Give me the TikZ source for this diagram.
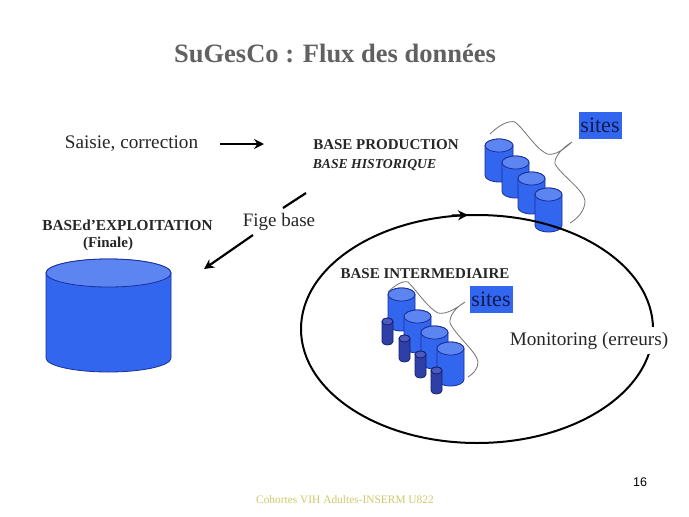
\documentclass[tikz,border=0pt]{standalone}
\usepackage{fontspec}
\setmainfont{Liberation Serif}
\newfontfamily\arialf{Liberation Sans}
\usetikzlibrary{arrows.meta}
\definecolor{cylblue}{HTML}{3366EE}
\definecolor{cyltop}{HTML}{5C85F2}
\definecolor{cylline}{HTML}{1A2F9A}
\definecolor{smallblue}{HTML}{2F3FA8}
\definecolor{smalltop}{HTML}{4A5AC0}
\definecolor{smallline}{HTML}{14206E}
\definecolor{sitefill}{HTML}{3366EE}
\definecolor{sitetext}{HTML}{101A50}
\tikzset{
  lab/.style={inner sep=0pt,text=black!85,font=\fontsize{#1}{#1}\selectfont},
  blab/.style={inner sep=0pt,text=black!85,font=\fontsize{#1}{#1}\selectfont\bfseries},
  sitebox/.style={fill=sitefill,inner sep=0pt,minimum width=43pt,minimum height=27pt,text=sitetext,font=\fontsize{22}{22}\selectfont},
  flowarrow/.style={draw=black,line width=2.2pt,-{Stealth[length=10pt,width=10pt]}},
  callout/.style={draw=black!55,line width=0.8pt},
}
% \cyl{left}{right}{top of lid}{bottom}{ry}{body}{lid}{line}{line width}
\newcommand{\cyl}[9]{%
  \path[fill=#6,draw=#8,line width=#9]
    (#1,{#3+#5}) -- (#1,{#4-#5})
    arc[start angle=180,end angle=0,x radius={(#2-#1)/2},y radius=#5]
    -- (#2,{#3+#5})
    arc[start angle=0,end angle=-180,x radius={(#2-#1)/2},y radius=#5] -- cycle;
  \path[fill=#7,draw=#8,line width=#9]
    ({(#1+#2)/2},{#3+#5}) ellipse[x radius={(#2-#1)/2},y radius=#5];
}
\begin{document}
\begin{tikzpicture}[x=1pt,y=-1pt]
\useasboundingbox[fill=white] (0,0) rectangle (689,517);
% title
\node[inner sep=0pt,text=black!62,font=\fontsize{26.5}{26.5}\selectfont\bfseries] (title) at (335,53) {SuGesCo : Flux des données};
% labels
\node[lab=19.2] (saisie) at (131.5,144) {Saisie, correction};
\node[blab=15] (prod) at (386,145) {BASE PRODUCTION};
\node[inner sep=0pt,text=black!85,font=\fontsize{13.7}{13.7}\selectfont\bfseries\itshape] (hist) at (374.5,165) {BASE HISTORIQUE};
\node[blab=15.3] (expl) at (127.5,225) {BASEd’EXPLOITATION};
\node[blab=15] (finale) at (108,244) {(Finale)};
\node[lab=19] (fige) at (279,221.5) {Fige base};
\node[blab=15] (inter) at (425,274) {BASE INTERMEDIAIRE};
% arrows
\coordinate (a1s) at (220,144);
\coordinate (a1e) at (264,144);
\draw[flowarrow] (a1s) -- (a1e);
\coordinate (a2s) at (306,193);
\coordinate (a2e) at (283,208);
\draw[draw=black,line width=2.2pt] (a2s) -- (a2e);
\coordinate (a3s) at (253,235);
\coordinate (a3e) at (204,269);
\draw[flowarrow] (a3s) -- (a3e);
% big cylinder
\cyl{46}{171}{259}{372}{14}{cylblue}{cyltop}{cylline}{0.8pt}
% top sites
\cyl{485}{513}{139}{182}{6.5}{cylblue}{cyltop}{cylline}{0.8pt}
\cyl{502}{529}{156}{198}{6.5}{cylblue}{cyltop}{cylline}{0.8pt}
\cyl{518}{545}{172}{214}{6.5}{cylblue}{cyltop}{cylline}{0.8pt}
\cyl{535}{562}{188}{232}{6.5}{cylblue}{cyltop}{cylline}{0.8pt}
% intermediate sites
\cyl{388}{415}{288}{331}{6.5}{cylblue}{cyltop}{cylline}{0.8pt}
\cyl{382}{393}{318}{345}{3.5}{smallblue}{smalltop}{smallline}{0.8pt}
\cyl{404}{431}{310}{353}{6.5}{cylblue}{cyltop}{cylline}{0.8pt}
\cyl{399}{410}{335}{362}{3.5}{smallblue}{smalltop}{smallline}{0.8pt}
\cyl{421}{448}{326}{369}{6.5}{cylblue}{cyltop}{cylline}{0.8pt}
\cyl{415}{426}{351}{378}{3.5}{smallblue}{smalltop}{smallline}{0.8pt}
\cyl{437}{464}{342}{386}{6.5}{cylblue}{cyltop}{cylline}{0.8pt}
\cyl{431}{442}{367}{394}{3.5}{smallblue}{smalltop}{smallline}{0.8pt}
% callouts
\draw[callout] (490,134) .. controls (498,126) and (508,120) .. (515,122)
  .. controls (525,130) and (535,148) .. (547,154)
  .. controls (556,156) and (565,148) .. (572,142)
  .. controls (562,148) and (554,157) .. (555,164)
  .. controls (562,176) and (584,190) .. (585,201)
  .. controls (585,211) and (577,219) .. (570,223);
\draw[callout] (388,292) .. controls (393,287) and (402,280) .. (408,282)
  .. controls (417,291) and (428,308) .. (438,313)
  .. controls (447,315) and (458,307) .. (465,302)
  .. controls (456,307) and (449,316) .. (450,323)
  .. controls (456,336) and (477,352) .. (478,362)
  .. controls (478,369) and (473,374) .. (468,377);
% big ellipse
\draw[black,line width=2pt] (477,329) ellipse[x radius=176,y radius=114];
\coordinate (el1) at (452,215.5);
\coordinate (el2) at (468,215);
\draw[draw=black,line width=2pt,-{Stealth[length=10pt,width=10pt]}] (el1) -- (el2);
% text over ellipse
\node[lab=19.2,fill=white,inner xsep=1pt,inner ysep=0pt,minimum height=27pt] (monitor) at (589,340.5) {Monitoring (erreurs)};
\node[sitebox] (sites1) at (600,125.5) {sites};
\node[sitebox] (sites2) at (491,299.5) {sites};
% footer
\node[inner sep=0pt,text=black,font=\arialf\fontsize{12.5}{12.5}\selectfont] (page) at (640,482) {16};
\node[inner sep=0pt,text=yellow!70!black!70,font=\fontsize{11.4}{11.4}\selectfont] (foot) at (345,500) {Cohortes VIH Adultes-INSERM U822};
\end{tikzpicture}
\end{document}
